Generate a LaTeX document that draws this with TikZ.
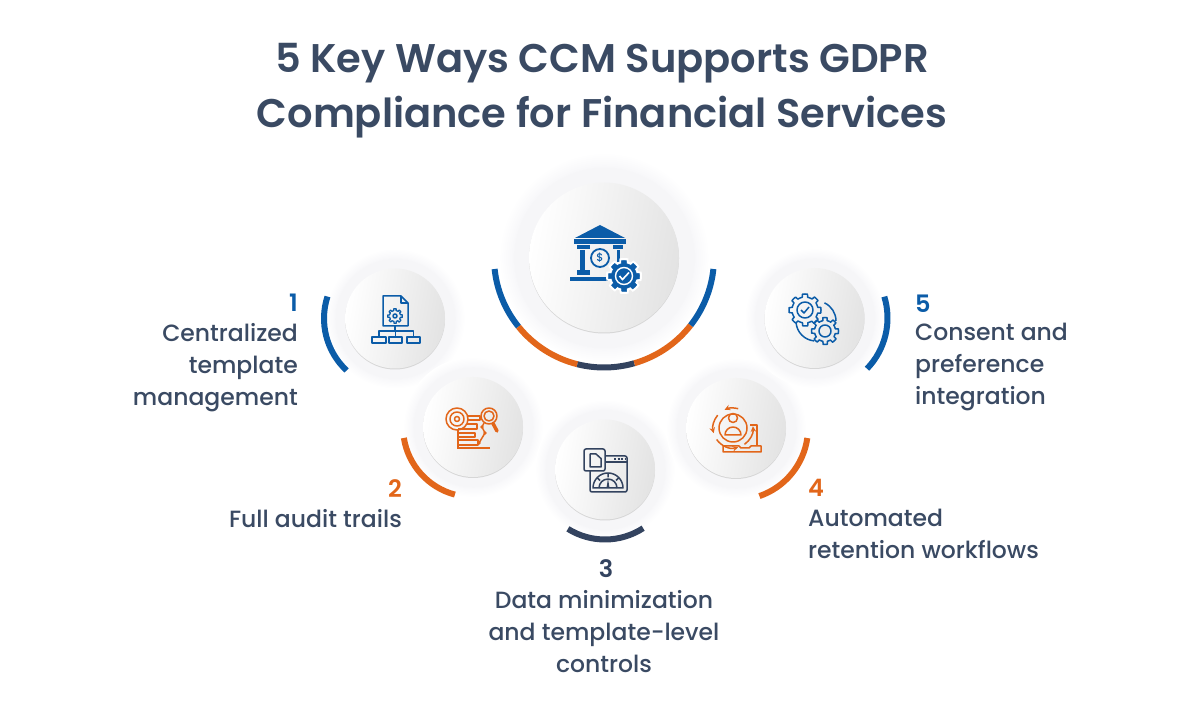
\documentclass[tikz,border=0pt]{standalone}
\usepackage{fontspec}
\setmainfont{Poppins Medium}
\newfontfamily\boldnum{Poppins SemiBold}
\usetikzlibrary{positioning}

\definecolor{stepblue}{HTML}{0B5CA8}
\definecolor{steporange}{HTML}{E2661A}
\definecolor{stepnavy}{HTML}{33435F}
\definecolor{titlecol}{HTML}{3A4A63}
\definecolor{halocol}{HTML}{F6F6F8}
\definecolor{softcol}{HTML}{F8F8FA}

\pgfdeclareradialshading{softhalo}{\pgfpointorigin}{color(0bp)=(halocol); color(21.4bp)=(halocol); color(21.8bp)=(softcol); color(25bp)=(white); color(50bp)=(white)}

\tikzset{
  halo/.style={circle, inner sep=0pt, shading=softhalo},
  rim/.style={circle, inner sep=0pt, fill=black!16},
  disc/.style={circle, inner sep=0pt, left color=white, right color=black!11, shading angle=80},
  ringarc/.style={line width=6pt},
  titletext/.style={font=\boldnum\fontsize{40}{55}\selectfont, text=titlecol, align=center, inner sep=0pt},
  numtext/.style={font=\boldnum\fontsize{24}{30}\selectfont, inner sep=0pt},
  notetext/.style={font=\fontsize{23.5}{32}\selectfont, text=titlecol, inner sep=0pt},
  iconline/.style={line width=1.5pt, line join=round},
}

% gear outline: options, centre, radius, tooth height
\newcommand{\gearat}[4][]{
  \draw[#1, shift={#2}] plot[domain=0:358, samples=120] (\x:{#3+#4*(cos(8*\x)>0?1:0)}) -- cycle;
}

\begin{document}
\begin{tikzpicture}[x=1pt, y=1pt, >=stealth]
  \useasboundingbox (0,0) rectangle (1200,715);
  \fill[white] (0,0) rectangle (1200,715);

  % Title
  \node[titletext] (title) at (602,624) {5 Key Ways CCM Supports GDPR\\Compliance for Financial Services};

  % Discs {main, one, two, three, four, five}
  \foreach \name/\cx/\cy/\rad in {main/604/457.5/75, one/395/396.5/50, two/473/288/50, three/605/245.5/50, four/736/287/50, five/814.5/397/50}{
    \node[halo, minimum size={2*1.4*\rad*1pt}] (\name halo) at (\cx,\cy) {};
  }
  \foreach \name/\cx/\cy/\rad in {main/604/457.5/75, one/395/396.5/50, two/473/288/50, three/605/245.5/50, four/736/287/50, five/814.5/397/50}{
    \node[rim, minimum size={2*\rad*1pt}] (\name rim) at (\cx,\cy-1) {};
    \node[disc, minimum size={2*\rad*1pt}] (\name) at (\cx,\cy) {};
  }

  % Arcs
  \draw[ringarc, stepblue]   (main) ++(186:110) arc[start angle=186, end angle=219, radius=110];
  \draw[ringarc, steporange] (main) ++(219:110) arc[start angle=219, end angle=256, radius=110];
  \draw[ringarc, stepnavy]   (main) ++(256:110) arc[start angle=256, end angle=286, radius=110];
  \draw[ringarc, steporange] (main) ++(286:110) arc[start angle=286, end angle=322, radius=110];
  \draw[ringarc, stepblue]   (main) ++(322:110) arc[start angle=322, end angle=354, radius=110];
  \draw[ringarc, stepblue]   (one) ++(162:71) arc[start angle=162, end angle=227, radius=71];
  \draw[ringarc, steporange] (two) ++(189:70) arc[start angle=189, end angle=255, radius=70];
  \draw[ringarc, stepnavy]   (three) ++(238:70) arc[start angle=238, end angle=303, radius=70];
  \draw[ringarc, steporange] (four) ++(289:72) arc[start angle=289, end angle=352, radius=72];
  \draw[ringarc, stepblue]   (five) ++(-44:73) arc[start angle=-44, end angle=17, radius=73];

  % Bank icon
  \begin{scope}[shift={(main.center)}, stepblue]
    \fill (-4,32.5) -- (21,19.5) -- (-29,19.5) -- cycle;
    \fill (-30,18.5) rectangle (22,13.5);
    \fill (-27,12.5) rectangle (-14,8.5);
    \fill (9,12.5) rectangle (19,8.5);
    \fill (-24,7.5) rectangle (-19,-12.5);
    \fill (13,7.5) rectangle (16,-5);
    \fill (-27,-12.5) rectangle (-14,-17.5);
    \fill (-34,-19.5) rectangle (4,-23.5);
    \draw[line width=1.8pt] (-4,-0.5) circle (9);
    \node[inner sep=0pt, font=\fontsize{11}{11}\selectfont, text=stepblue] (dollar) at (-4,-0.5) {\$};
    \gearat[fill=white, draw=white, line width=4pt]{(20,-18.5)}{13}{3}
    \gearat[fill=stepblue, draw=stepblue, line width=.5pt]{(20,-18.5)}{12.5}{3}
    \draw[white, line width=1.4pt] (20,-18.5) circle (8.5);
    \draw[white, line width=1.6pt] (15.5,-18.5) -- (18.5,-22) -- (25,-15);
  \end{scope}

  % Template icon
  \begin{scope}[shift={(one.center)}, stepblue, iconline]
    \draw (-12,22.5) -- (6,22.5) -- (13,15.5) -- (13,-7.5) -- (-12,-7.5) -- cycle;
    \draw (6,22.5) -- (6,15.5) -- (13,15.5);
    \gearat[line width=1.3pt]{(0,2.5)}{5.5}{1.8}
    \draw (0,2.5) circle (2);
    \draw (0,-7.5) -- (0,-12.5);
    \draw (-16,-18.5) -- (-16,-12.5) -- (18.5,-12.5) -- (18.5,-18.5);
    \draw (0.5,-12.5) -- (0.5,-18.5);
    \draw (-23,-18.5) rectangle (-9,-24.5);
    \draw (-6,-18.5) rectangle (7,-24.5);
    \draw (12,-18.5) rectangle (25,-24.5);
  \end{scope}

  % Audit icon
  \begin{scope}[shift={(two.center)}, steporange, iconline]
    \draw (-16,8) circle (11);
    \draw (-16,8) circle (7);
    \draw (-16,8) circle (2.5);
    \draw (-6,11) -- (7,11) -- (7,7) -- (-5,7);
    \draw (-6,3) -- (4,3) -- (4,-2) -- (-15,-2);
    \draw (-15,-3) -- (-15,-21);
    \draw (-15,-6) -- (2,-6) -- (2,-10) -- (-15,-10);
    \draw (-15,-13) -- (5,-13) -- (5,-18) -- (-15,-18);
    \draw (-16,-21) -- (17,-21);
    \draw (16,11) circle (8);
    \draw (16,11) circle (5);
    \draw[line width=3.5pt, line cap=round] (20,3.5) -- (24,-4);
    \draw (11,4) -- (9,0) -- (12,-6) -- (6,-16);
    \fill (9,0) circle (1.8) (12,-6) circle (1.8) (6,-16) circle (1.8);
  \end{scope}

  % Gauge icon
  \begin{scope}[shift={(three.center)}, stepnavy, iconline]
    \draw[rounded corners=2pt] (-21,20.5) rectangle (0,-1.5);
    \draw (-15,15.5) -- (-9,15.5) -- (-4,11) -- (-4,2.5) -- (-15,2.5) -- cycle;
    \draw[rounded corners=2pt] (0,13.5) -- (22,13.5) -- (22,-22.5) -- (-15,-22.5) -- (-15,-1.5);
    \draw (0,7.5) -- (22,7.5);
    \draw[dash pattern=on 2pt off 1.5pt] (9,10.5) -- (20,10.5);
    \draw (-12,-18.5) arc[start angle=180, end angle=0, radius=15] -- cycle;
    \draw (-6,-18.5) arc[start angle=180, end angle=0, radius=9];
    \fill (1.5,-18.5) -- (4.5,-18.5) -- (3,-9) -- cycle;
    \draw (3,-3.5) -- (3,-8) (-8,-8) -- (-5,-11) (14,-8) -- (11,-11);
  \end{scope}

  % Retention icon
  \begin{scope}[shift={(four.center)}, steporange, iconline]
    \draw (-3,0) circle (14);
    \draw (-3,10) circle (4.5);
    \draw (-11,-7) arc[start angle=180, end angle=0, radius=8] -- cycle;
    \draw[->] (-3,0) ++(75:20) arc[start angle=75, end angle=115, radius=20];
    \draw[->] (-3,0) ++(140:20) arc[start angle=140, end angle=195, radius=20];
    \draw[->] (-3,0) ++(215:20) arc[start angle=215, end angle=285, radius=20];
    \draw[->] (-3,0) ++(305:20) arc[start angle=305, end angle=365, radius=20];
    \draw (-13,-18) -- (3,-18) -- (5,-20) -- (13,-20) -- (15,-18) -- (25,-18) -- (25,-24) -- (-13,-24) -- cycle;
    \draw (21,-18) -- (21,3) -- (14,3);
  \end{scope}

  % Consent icon
  \begin{scope}[shift={(five.center)}, stepblue, iconline]
    \draw (1.5,-3) ++(65:20) arc[start angle=65, end angle=0, radius=20];
    \draw (1.5,-3) ++(185:20) arc[start angle=185, end angle=265, radius=20];
    \gearat[line width=1.5pt]{(-9.5,8)}{13}{3}
    \draw (-9.5,8) circle (8);
    \draw (-13.5,8) -- (-10.5,5) -- (-5.5,11);
    \gearat[line width=1.5pt]{(10.5,-13)}{10.5}{3}
    \draw (10.5,-13) circle (6);
  \end{scope}

  % Numbers and labels
  \node[numtext, text=stepblue, anchor=base east] (num1) at (298,403) {1};
  \node[notetext, align=right, anchor=north east] (note1) at (298,392) {Centralized\\template\\management};
  \node[numtext, text=steporange, anchor=base east] (num2) at (402,217) {2};
  \node[notetext, align=right, anchor=north east] (note2) at (402,206) {Full audit trails};
  \node[numtext, text=stepnavy, anchor=base] (num3) at (606,137) {3};
  \node[notetext, align=center, anchor=north] (note3) at (604,124.5) {Data minimization\\and template-level\\controls};
  \node[numtext, text=steporange, anchor=base west] (num4) at (808,218) {4};
  \node[notetext, align=left, anchor=north west] (note4) at (808,206) {Automated\\retention workflows};
  \node[numtext, text=stepblue, anchor=base west] (num5) at (915,402) {5};
  \node[notetext, align=left, anchor=north west] (note5) at (915,392) {Consent and\\preference\\integration};
\end{tikzpicture}
\end{document}
